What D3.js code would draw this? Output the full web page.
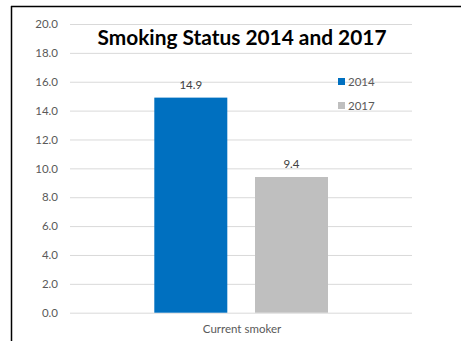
<!DOCTYPE html>
<html>
<head>
<meta charset="utf-8">
<script src="https://cdn.jsdelivr.net/npm/d3@7"></script>
<style>
  html, body { margin: 0; padding: 0; background: #fff; }
  svg { display: block; font-family: Lato, "Open Sans", sans-serif; }
</style>
</head>
<body>
<svg id="chart" width="461" height="341"></svg>
<script>
// Chart data
const categories = ["Current smoker"];
const seriesNames = ["2014", "2017"];
const values2014 = [14.9];
const values2017 = [9.4];
const yTicks = [0, 2, 4, 6, 8, 10, 12, 14, 16, 18, 20];
const colors = ["#0070C0", "#BFBFBF"];

const svg = d3.select("#chart");

// Frame edges
svg.append("line").attr("x1", 11.5).attr("x2", 11.5).attr("y1", 6).attr("y2", 341)
  .attr("stroke", "#000").attr("stroke-width", 1.5);
svg.append("line").attr("x1", 11).attr("x2", 461).attr("y1", 6.5).attr("y2", 6.5)
  .attr("stroke", "#000").attr("stroke-width", 1.5);

const plot = { left: 70, right: 412, top: 24, bottom: 312.7 };

const y = d3.scaleLinear().domain([0, 20]).range([plot.bottom, plot.top]);
const x0 = d3.scaleBand().domain(categories).range([plot.left, plot.right]);
const x1 = d3.scaleBand().domain(seriesNames)
  .range([x0("Current smoker") + 84.3, x0("Current smoker") + 258])
  .paddingInner(0.275);

// Gridlines
const yAxis = d3.axisLeft(y).tickValues(yTicks).tickFormat(d3.format(".1f"))
  .tickSize(-(plot.right - plot.left)).tickPadding(12);
const gAxis = svg.append("g").attr("transform", `translate(${plot.left},0)`).call(yAxis);
gAxis.select(".domain").remove();
gAxis.selectAll(".tick line").attr("stroke", "#D9D9D9").attr("stroke-width", 1);
gAxis.selectAll(".tick text").attr("fill", "#595959").attr("font-size", 11.5)
  .attr("font-family", "Lato, sans-serif");

// Bars
const rows = categories.map((c, i) => ({ cat: c, vals: [values2014[i], values2017[i]] }));
const groups = svg.selectAll(".grp").data(rows).join("g").attr("class", "grp")
  .attr("transform", d => `translate(${x0(d.cat)},0)`);
groups.selectAll("rect").data(d => d.vals.map((v, j) => ({ name: seriesNames[j], v, j })))
  .join("rect")
  .attr("x", d => x1(d.name) - x0("Current smoker"))
  .attr("y", d => y(d.v))
  .attr("width", x1.bandwidth())
  .attr("height", d => y(0) - y(d.v))
  .attr("fill", d => colors[d.j]);

// Value labels
groups.selectAll(".val").data(d => d.vals.map((v, j) => ({ name: seriesNames[j], v, j })))
  .join("text").attr("class", "val")
  .attr("x", d => x1(d.name) - x0("Current smoker") + x1.bandwidth() / 2)
  .attr("y", d => y(d.v) - 9)
  .attr("text-anchor", "middle")
  .attr("fill", "#404040").attr("font-size", 11.5)
  .text(d => d.v.toFixed(1));

// Category axis label
svg.append("text").attr("x", x0("Current smoker") + x0.bandwidth() / 2 + 1).attr("y", 333)
  .attr("text-anchor", "middle").attr("fill", "#595959").attr("font-size", 11.5)
  .text(categories[0]);

// Title
svg.append("text").attr("x", 242).attr("y", 45)
  .attr("text-anchor", "middle").attr("font-weight", "bold").attr("font-size", 20)
  .attr("fill", "#000").attr("textLength", 289).attr("lengthAdjust", "spacingAndGlyphs")
  .text("Smoking Status 2014 and 2017");

// Legend
const legend = svg.append("g").attr("transform", "translate(338,78)");
seriesNames.forEach((name, i) => {
  const g = legend.append("g").attr("transform", `translate(0,${i * 24})`);
  g.append("rect").attr("x", 0).attr("y", 0).attr("width", 7).attr("height", 7).attr("fill", colors[i]);
  g.append("text").attr("x", 10).attr("y", 8).attr("fill", "#595959").attr("font-size", 11.5).text(name);
});
</script>
</body>
</html>
